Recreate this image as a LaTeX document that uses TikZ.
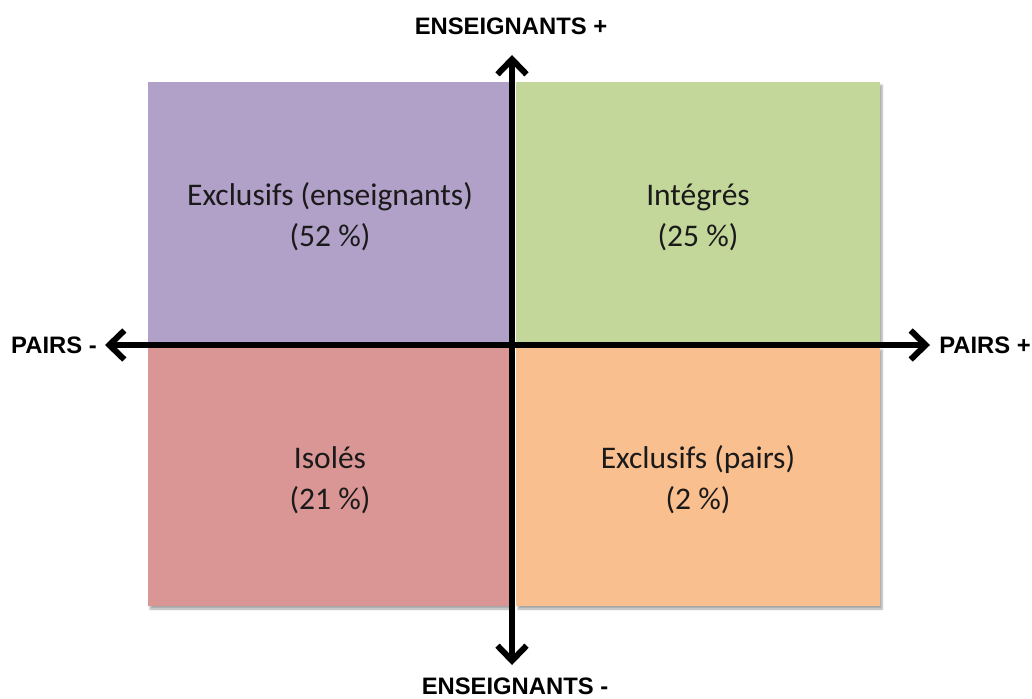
\documentclass[tikz,border=0pt]{standalone}
\usepackage{fontspec}
\setmainfont{Carlito}
\newfontfamily\axisfont{Liberation Sans}
\usetikzlibrary{arrows.meta,shadows.blur}
\definecolor{qpurple}{HTML}{B1A0C7}
\definecolor{qgreen}{HTML}{C4D79B}
\definecolor{qred}{HTML}{DA9694}
\definecolor{qorange}{HTML}{FABF8F}
\definecolor{qtext}{HTML}{1A1A1A}
\tikzset{
  quad/.style={draw=none, blur shadow={shadow xshift=2pt, shadow yshift=-3pt, shadow blur steps=6, shadow opacity=35}},
  quadtext/.style={align=center, font=\fontsize{31.5}{41}\selectfont, text=qtext},
  axislabel/.style={font=\axisfont\bfseries\fontsize{23.8}{27}\selectfont, inner sep=0pt},
  axisline/.style={line width=5.5pt, -{Straight Barb[length=15pt,width=29pt,line width=6pt]}},
}
\begin{document}
\begin{tikzpicture}[x=1pt,y=-1pt]
\useasboundingbox (0,0) rectangle (1032,698);
% quadrants
\fill[qpurple, quad] (148,82) rectangle (509,343);
\fill[qgreen, quad] (516,82) rectangle (880,343);
\fill[qred, quad] (148,347) rectangle (509,606);
\fill[qorange, quad] (516,347) rectangle (880,606);
% quadrant texts
\node[quadtext] (tl) at (330,217) {Exclusifs (enseignants)\\(52 \%)};
\node[quadtext] (tr) at (698,217) {Intégrés\\(25 \%)};
\node[quadtext] (bl) at (330,480) {Isolés\\(21 \%)};
\node[quadtext] (br) at (698,480) {Exclusifs (pairs)\\(2 \%)};
% axis endpoints
\coordinate (c) at (512,345);
\coordinate (top) at (512,55);
\coordinate (bot) at (512,665);
\coordinate (lft) at (105,345);
\coordinate (rgt) at (930,345);
\draw[axisline] (c) -- (top);
\draw[axisline] (c) -- (bot);
\draw[axisline] (c) -- (lft);
\draw[axisline] (c) -- (rgt);
% axis labels
\node[axislabel] (ltop) at (511,26) {ENSEIGNANTS +};
\node[axislabel] (lbot) at (515,686) {ENSEIGNANTS -};
\node[axislabel] (llft) at (54,345) {PAIRS -};
\node[axislabel] (lrgt) at (985,345) {PAIRS +};
\end{tikzpicture}
\end{document}
